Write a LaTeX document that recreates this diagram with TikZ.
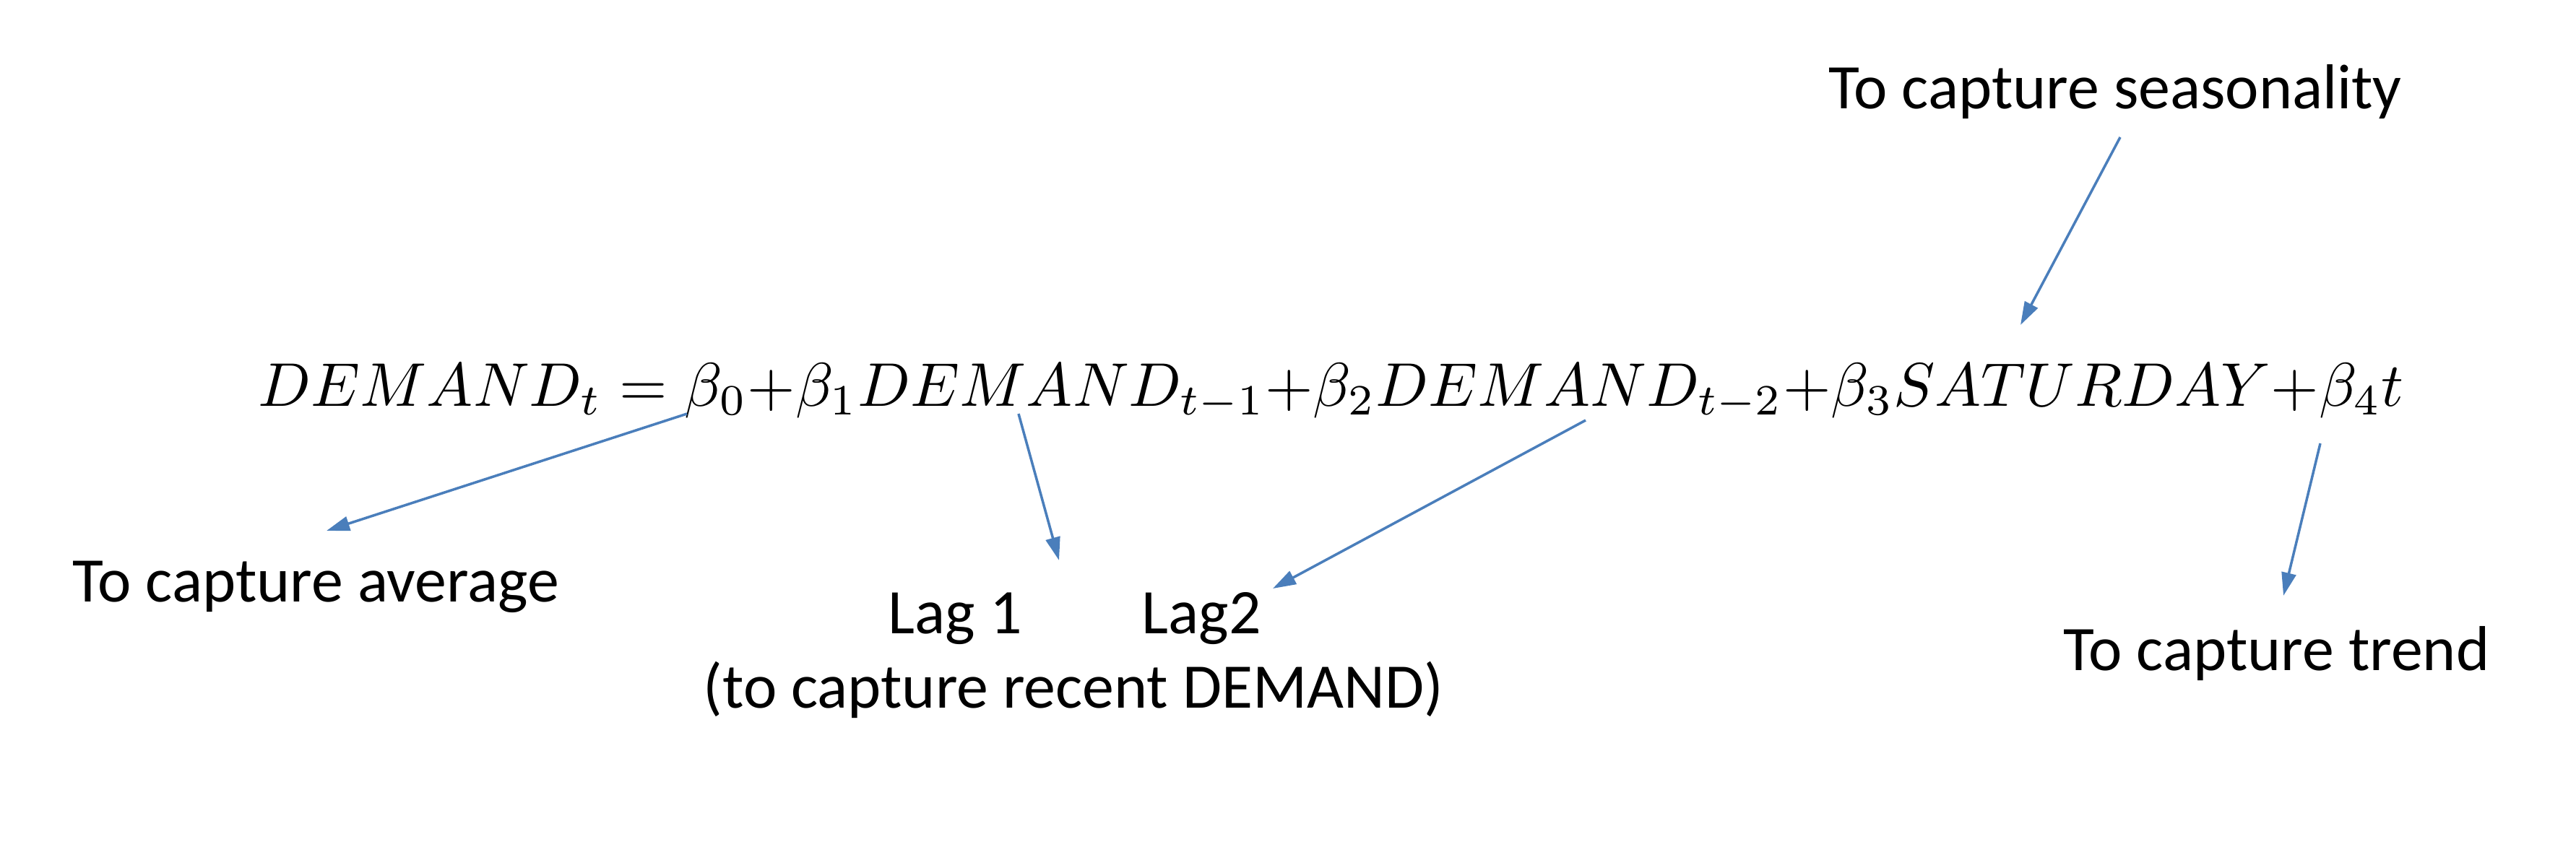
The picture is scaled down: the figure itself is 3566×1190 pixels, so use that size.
\documentclass[tikz,border=0pt]{standalone}
\usepackage{graphicx}
\usepackage[no-math]{fontspec}
\newfontfamily\calibri{Carlito}
\usetikzlibrary{arrows.meta}
\definecolor{arrowblue}{HTML}{4A7EBB}
\tikzset{
  lbl/.style={anchor=base west, inner sep=0pt, font=\calibri\fontsize{25}{30}\selectfont},
  eqn/.style={anchor=base west, inner sep=0pt},
  pointer/.style={draw=arrowblue, line width=1pt, -{Triangle[length=0.32cm, width=0.2cm]}},
}
\begin{document}
\begin{tikzpicture}[x=0.01cm, y=-0.01cm]
\useasboundingbox (0,0) rectangle (3566,1190);
\node[eqn] (eq) at (357,562) {\scalebox{2.43}{$DEMAND_t = \beta_0{+}\beta_1 DEMAND_{t-1}{+}\beta_2 DEMAND_{t-2}{+}\beta_3 SATURDAY{+}\beta_4 t$}};
\node[lbl] (seas) at (2531,150) {To capture seasonality};
\node[lbl] (avg) at (100,833) {To capture average};
\node[lbl] (lag1) at (1229,877) {Lag 1};
\node[lbl] (lag2) at (1580,877) {Lag2};
\node[lbl] (recent) at (973,980) {(to capture recent DEMAND)};
\node[lbl] (trend) at (2856,928) {To capture trend};
\coordinate (b0) at (951,573);
\coordinate (avgtip) at (452,735);
\coordinate (d1) at (1410,573);
\coordinate (lag1tip) at (1466,776);
\coordinate (d2) at (2195,582);
\coordinate (lag2tip) at (1762,815);
\coordinate (seasstart) at (2935,190);
\coordinate (sat) at (2797,450);
\coordinate (b4) at (3212,614);
\coordinate (trendtip) at (3161,825);
\draw[pointer] (b0) -- (avgtip);
\draw[pointer] (d1) -- (lag1tip);
\draw[pointer] (d2) -- (lag2tip);
\draw[pointer] (seasstart) -- (sat);
\draw[pointer] (b4) -- (trendtip);
\end{tikzpicture}
\end{document}
